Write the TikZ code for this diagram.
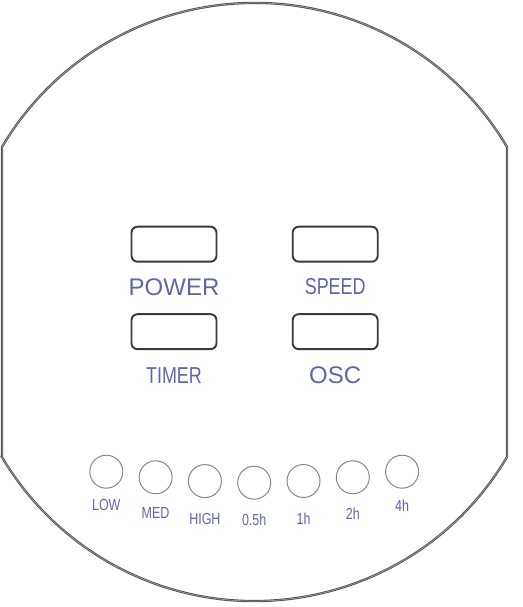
\documentclass[tikz,border=0pt]{standalone}
\usepackage{fontspec}
\setmainfont{Liberation Sans}
\newfontfamily\narrowsf[FakeStretch=0.78]{Liberation Sans}
\usetikzlibrary{positioning}
\definecolor{keylabel}{RGB}{96,100,172}
\definecolor{rim}{RGB}{80,80,80}
\definecolor{keyedge}{RGB}{58,58,58}
\definecolor{ledring}{RGB}{135,135,135}

\begin{document}
\begin{tikzpicture}[x=1pt, y=1pt,
        key/.style={draw=keyedge, line width=1.9pt, rounded corners=6pt,
            minimum width=85pt, minimum height=35pt, inner sep=0pt},
        keytext/.style={text=keylabel, inner sep=0pt, font=\fontsize{24}{28}\selectfont},
        narrowtext/.style={keytext, font=\narrowsf\fontsize{23}{28}\selectfont},
        led/.style={draw=ledring, line width=1pt, circle, minimum size=33pt, inner sep=0pt},
        ledtext/.style={text=keylabel, inner sep=0pt, font=\narrowsf\fontsize{16}{18}\selectfont}]
        \useasboundingbox (0,0) rectangle (522,607);
        % housing
        \draw[draw=rim, line width=0.9pt, double=rim!45, double distance=0.5pt]
            (2,150) -- (2,460) arc[start angle=149.4, end angle=30.6, radius=293.4]
            -- (507,150) arc[start angle=-30.6, end angle=-149.4, radius=293.4] -- cycle;

        % keys
        \node[key] (power) at (174,362.8) {};
        \node[key] (speed) at (335.2,362.8) {};
        \node[key] (timer) at (174,275.3) {};
        \node[key] (osc) at (335.2,275.3) {};
        \node[keytext, below=16pt of power] (powertext) {POWER};
        \node[narrowtext, below=16pt of speed] (speedtext) {SPEED};
        \node[narrowtext, below=17pt of timer] (timertext) {TIMER};
        \node[keytext, below=16pt of osc] (osctext) {OSC};

        % indicator lights
        \foreach \i/\x/\y/\txt/\gap in {1/106.3/135.3/LOW/10.5pt, 2/155.6/129.7/MED/12.5pt,
                3/204.9/125.9/HIGH/15pt, 4/254.2/124.3/0.5h/14pt, 5/303.5/126/1h/14.5pt,
                6/352.8/129.7/2h/13pt, 7/402.1/135.3/4h/11.3pt} {
            \node[led] (led\i) at (\x,\y) {};
            \node[ledtext, below=\gap of led\i] (ledtext\i) {\txt};
        }
    \end{tikzpicture}
\end{document}
